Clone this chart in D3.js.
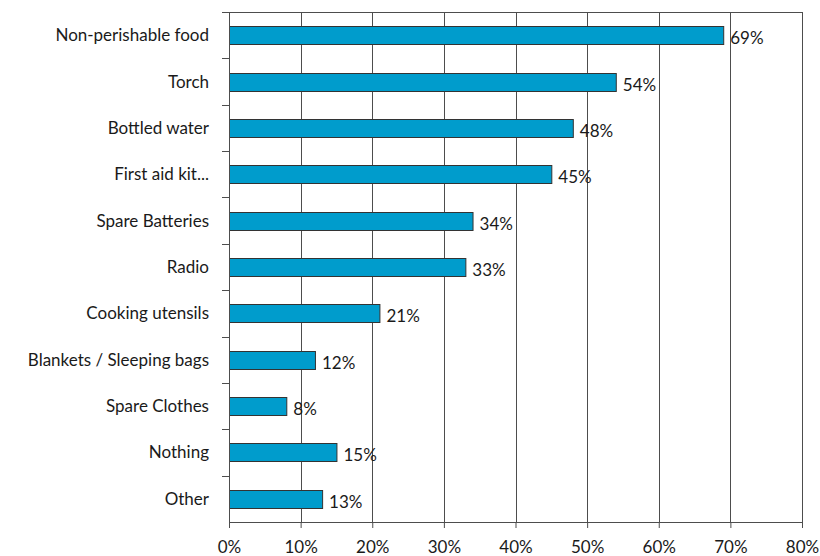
<html>
<head>
	<meta charset="utf-8">
	<script src="https://cdn.jsdelivr.net/npm/d3@7"></script>
	<style>
		body { margin: 0; background: #fff; }
		text { font-family: Lato, "Open Sans", sans-serif; font-size: 17px; fill: #1a1a1a; }
	</style>
</head>
<body>
	<script type="text/javascript">
		var width = 820
		var height = 556

		var categories = ["Non-perishable food", "Torch", "Bottled water", "First aid kit...",
			"Spare Batteries", "Radio", "Cooking utensils", "Blankets / Sleeping bags",
			"Spare Clothes", "Nothing", "Other"]
		var values = [69, 54, 48, 45, 34, 33, 21, 12, 8, 15, 13]
		var xTicks = [0, 10, 20, 30, 40, 50, 60, 70, 80]

		var plotLeft = 229, plotRight = 802, plotTop = 12, plotBottom = 522

		var svg = d3.select("body").append("svg")
		  .attr("width", width)
		  .attr("height", height)

		var x = d3.scaleLinear().domain([0, 80]).range([plotLeft, plotRight])
		var y = d3.scaleBand().domain(categories).range([plotTop, plotBottom]).paddingInner(0.61).paddingOuter(0.305)
		var rows = d3.scaleBand().domain(categories).range([plotTop, plotBottom])

		// grid lines
		svg.append("g").selectAll("line")
		  .data(xTicks.slice(1))
		  .enter().append("line")
			.attr("x1", d => Math.round(x(d)) + 0.5).attr("x2", d => Math.round(x(d)) + 0.5)
			.attr("y1", plotTop).attr("y2", plotBottom)
			.attr("stroke", "#4d4d4d").attr("stroke-width", 1)

		// top border
		svg.append("line")
		  .attr("x1", plotLeft - 7).attr("x2", plotRight + 1)
		  .attr("y1", plotTop + 0.5).attr("y2", plotTop + 0.5)
		  .attr("stroke", "#4d4d4d")

		// bars
		svg.append("g").selectAll("rect")
		  .data(values)
		  .enter().append("rect")
			.attr("x", x(0) + 0.5)
			.attr("y", (d, i) => Math.round(y(categories[i])) + 0.5)
			.attr("width", d => x(d) - x(0))
			.attr("height", Math.round(y.bandwidth()))
			.attr("fill", "#009ccc")
			.attr("stroke", "#333")
			.attr("stroke-width", 1)

		// value labels
		svg.append("g").selectAll("text")
		  .data(values)
		  .enter().append("text")
			.attr("x", d => x(d) + 7)
			.attr("y", (d, i) => y(categories[i]) + y.bandwidth() / 2 + 9)
			.text(d => d + "%")

		// x axis
		var x_axis = d3.axisBottom(x).tickValues(xTicks).tickFormat(d => d + "%").tickSize(6).tickPadding(10)
		var gx = svg.append("g").attr("transform", "translate(0," + plotBottom + ")").call(x_axis)
		gx.attr("font-size", null).attr("font-family", null)
		gx.select(".domain").attr("stroke", "#4d4d4d")
		gx.selectAll(".tick line").attr("stroke", "#4d4d4d")
		gx.selectAll("text").attr("dy", null).attr("y", 31).attr("fill", "#1a1a1a")

		// y axis
		svg.append("line")
		  .attr("x1", plotLeft + 0.5).attr("x2", plotLeft + 0.5).attr("y1", plotTop).attr("y2", plotBottom + 6)
		  .attr("stroke", "#4d4d4d")
		svg.append("g").selectAll("line")
		  .data(categories.slice(1))
		  .enter().append("line")
			.attr("x1", plotLeft - 7).attr("x2", plotLeft)
			.attr("y1", d => Math.round(rows(d)) + 0.5).attr("y2", d => Math.round(rows(d)) + 0.5)
			.attr("stroke", "#4d4d4d")

		svg.append("g").selectAll("text")
		  .data(categories)
		  .enter().append("text")
			.attr("x", 209)
			.attr("y", d => rows(d) + rows.bandwidth() / 2 + 6)
			.attr("text-anchor", "end")
			.text(d => d)
	</script>
</body>
</html>
